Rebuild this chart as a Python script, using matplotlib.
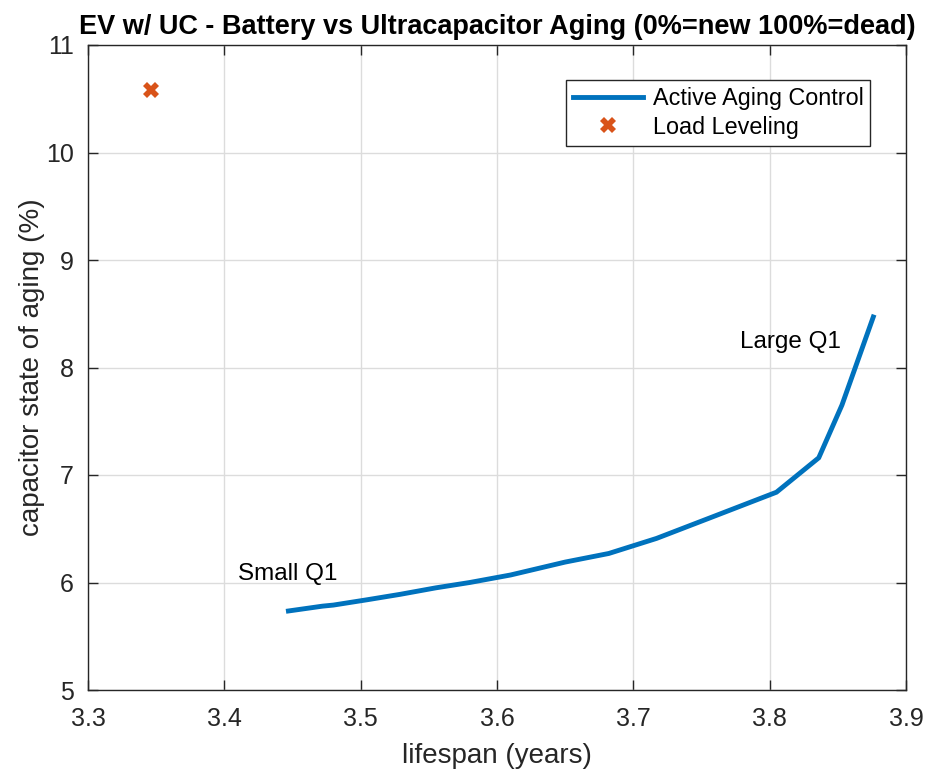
import matplotlib
matplotlib.use("Agg")
import matplotlib.pyplot as plt

plt.rcParams['font.family'] = ['Liberation Sans', 'DejaVu Sans']

# Data
aac_lifespan = [3.447, 3.472, 3.480, 3.505, 3.529, 3.555, 3.580, 3.610, 3.650,
                3.682, 3.717, 3.758, 3.805, 3.836, 3.853, 3.876]
aac_aging = [5.735, 5.78, 5.79, 5.84, 5.89, 5.95, 6.00, 6.07, 6.19,
             6.27, 6.41, 6.61, 6.84, 7.16, 7.65, 8.47]
ll_lifespan = [3.346]
ll_aging = [10.58]
xticks = [3.3, 3.4, 3.5, 3.6, 3.7, 3.8, 3.9]
yticks = [5, 6, 7, 8, 9, 10, 11]

fig = plt.figure(figsize=(9.27, 7.70), dpi=100)
ax = fig.add_axes([88/927, 80/770, (906-88)/927, (690-45)/770])

ax.plot(aac_lifespan, aac_aging, color='#0072BD', lw=3.5, label='Active Aging Control',
        solid_joinstyle='miter')
ax.plot(ll_lifespan, ll_aging, linestyle='none', marker='X', color='#D95319',
        markersize=11, markeredgewidth=0, label='Load Leveling')

ax.set_xlim(3.3, 3.9)
ax.set_ylim(5, 11)
ax.set_xticks(xticks)
ax.set_yticks(yticks)
ax.set_xticklabels([f"{t:.1f}" for t in xticks])
ax.set_yticklabels([str(t) for t in yticks])
ax.grid(True, color='#dcdcdc', lw=1.0)
ax.set_axisbelow(True)
ax.tick_params(direction='in', length=7, width=1, top=True, right=True,
               labelsize=18, colors='#262626')
ax.tick_params(axis='x', pad=12)
ax.tick_params(axis='y', pad=10)
for s in ax.spines.values():
    s.set_color('#262626')
    s.set_linewidth(1)

ax.set_xlabel('lifespan (years)', fontsize=20, color='#262626', labelpad=9)
ax.set_ylabel('capacitor state of aging (%)', fontsize=20, color='#262626', labelpad=1)
ax.set_title('EV w/ UC - Battery vs Ultracapacitor Aging (0%=new 100%=dead)',
             fontsize=19.5, fontweight='bold', pad=8)

ax.text(3.41, 6.02, 'Small Q1', fontsize=17.5, color='black')
ax.text(3.778, 8.18, 'Large Q1', fontsize=17.5, color='black')

leg = ax.legend(loc='upper right', bbox_to_anchor=(0.9565, 0.946), fontsize=16.8,
                fancybox=False, edgecolor='#262626', framealpha=1,
                handlelength=3.0, handletextpad=0.4, borderpad=0.3,
                labelspacing=0.25, borderaxespad=0)
leg.get_frame().set_linewidth(1)

fig.savefig('out.png', dpi=100)
